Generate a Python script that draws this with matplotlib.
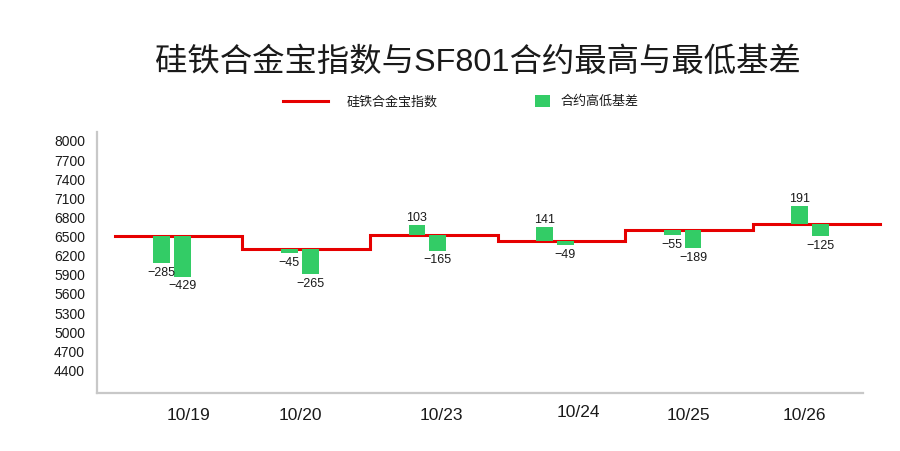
import matplotlib
matplotlib.use("Agg")
import matplotlib.pyplot as plt
import numpy as np
from matplotlib.lines import Line2D
from matplotlib.patches import Rectangle

# ---- data ----
dates = ["10/19", "10/20", "10/23", "10/24", "10/25", "10/26"]
index_level = [6500, 6292, 6511, 6422, 6590, 6679]      # 硅铁合金宝指数
basis_first = [-285, -45, 103, 141, -55, 191]            # 合约基差（第一根）
basis_second = [-429, -265, -165, -49, -189, -125]       # 合约基差（第二根）
y_ticks = [4400, 4700, 5000, 5300, 5600, 5900, 6200, 6500, 6800, 7100, 7400, 7700, 8000]

title = "硅铁合金宝指数与SF801合约最高与最低基差"
legend_line = "硅铁合金宝指数"
legend_bar = "合约高低基差"

# ---- style ----
RED = "#e60000"
GREEN = "#33cc66"
SPINE = "#c8c8c8"
TXT = "#1a1a1a"
LATIN_CJK = ["Liberation Sans", "Noto Sans CJK SC", "DejaVu Sans"]
plt.rcParams["font.family"] = LATIN_CJK

fig = plt.figure(figsize=(9.0, 4.52), dpi=100)
ax = fig.add_axes([0.1078, 0.1283, 0.8511, 0.5775])

Y0, Y1 = 4030, 8125
ax.set_ylim(Y0, Y1)
ax.set_xlim(-0.588, 5.413)

n = len(dates)
x = np.arange(n)

# step line for the index
edges = np.arange(n + 1) - 0.45
levels = list(index_level) + [index_level[-1]]
ax.step(edges, levels, where="post", color=RED, lw=2.2, clip_on=False, zorder=3,
        solid_joinstyle="miter")

# basis bars live on a secondary scale, floating from the index level
S = 1.5
ax2 = ax.twinx()
ax2.set_ylim(Y0 / S, Y1 / S)
ax2.axis("off")
bw = 0.131
off = 0.082
base = np.array(index_level) / S
for xs, vals in ((x - off, basis_first), (x + off, basis_second)):
    ax2.bar(xs, vals, width=bw, bottom=base, color=GREEN, zorder=2, linewidth=0)
    for xi, b, v in zip(xs, base, vals):
        if v >= 0:
            ax2.annotate(f"{v}", (xi, b + v), xytext=(0, 1.5), textcoords="offset points",
                         ha="center", va="bottom", fontsize=9, color=TXT)
        else:
            ax2.annotate(f"\u2212{abs(v)}", (xi, b + v), xytext=(0, -2), textcoords="offset points",
                         ha="center", va="top", fontsize=9, color=TXT)

# axes styling
for s in ("top", "right"):
    ax.spines[s].set_visible(False)
for s in ("left", "bottom"):
    ax.spines[s].set_color(SPINE)
    ax.spines[s].set_linewidth(1.6)
ax.set_yticks(y_ticks)
ax.set_yticklabels([str(t) for t in y_ticks], fontsize=10, color=TXT)
ax.tick_params(axis="y", length=0, pad=8.6)

# date labels under the axis
label_x = [0.128, 1.003, 2.108, 3.184, 4.044, 4.953]
label_dy = [0, 0, 0, 2, 0, 0]
ax.set_xticks([])
for lx, d, dy in zip(label_x, dates, label_dy):
    ax.annotate(d, (lx, 0), xycoords=("data", "axes fraction"), xytext=(0, -10 + dy),
                textcoords="offset points", ha="center", va="top", fontsize=12.5, color=TXT)

# title
fig.text(0.531, 0.862, title, ha="center", va="center", fontsize=23.3, color=TXT)

# legend
ly = 1 - 102 / 452
fig.add_artist(Line2D([283 / 900, 328 / 900], [ly, ly], color=RED, lw=2.2))
fig.text(347 / 900, ly, legend_line, ha="left", va="center", fontsize=9.4, color=TXT)
fig.add_artist(Rectangle((535 / 900, ly - 6 / 452), 15 / 900, 12 / 452, color=GREEN, lw=0))
fig.text(561 / 900, ly, legend_bar, ha="left", va="center", fontsize=9.4, color=TXT)

fig.savefig("out.png", dpi=100, facecolor="white")
